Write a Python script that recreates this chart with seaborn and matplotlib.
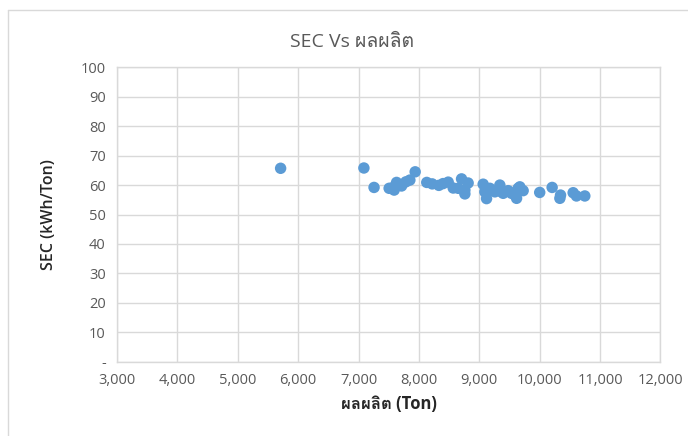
import matplotlib
matplotlib.use("Agg")
import matplotlib.pyplot as plt
from matplotlib import font_manager
from matplotlib.ft2font import FT2Font
from matplotlib.lines import Line2D
from matplotlib.ticker import FuncFormatter, MultipleLocator
import seaborn as sns
import pandas as pd

# Production (Ton) and specific energy consumption (kWh/Ton)
production = [5710, 7089, 7257, 7507, 7563, 7590, 7630, 7713, 7784, 7850, 7938,
              8130, 8220, 8330, 8400, 8485, 8568, 8651, 8706, 8761, 8761, 8815,
              9064, 9092, 9120, 9175, 9258, 9340, 9368, 9395, 9478, 9533, 9617,
              9643, 9671, 9726, 10000, 10206, 10334, 10345, 10554, 10609, 10747]
sec = [65.7, 65.8, 59.2, 58.9, 59.1, 58.3, 60.9, 59.7, 61.1, 61.7, 64.5,
       60.9, 60.4, 59.9, 60.5, 61.0, 59.0, 58.9, 62.1, 58.3, 57.0, 60.7,
       60.3, 57.7, 55.4, 58.9, 57.7, 60.0, 57.7, 57.2, 58.1, 57.2, 55.5,
       58.9, 59.4, 58.1, 57.5, 59.2, 55.5, 56.6, 57.4, 56.3, 56.3]

title_text = "SEC Vs ผลผลิต"
x_label = "ผลผลิต (Ton)"
y_label = "SEC (kWh/Ton)"

df = pd.DataFrame({"production": production, "sec": sec})

sns.set_theme(style="white")


def thai_capable_fonts():
    names = []
    for f in font_manager.fontManager.ttflist:
        try:
            cmap = FT2Font(f.fname).get_charmap()
        except Exception:
            continue
        if 0x0E1C in cmap and f.name not in names:
            names.append(f.name)
    return names


families = ["Open Sans"] + thai_capable_fonts() + ["DejaVu Sans"]
plt.rcParams["font.family"] = families

fig = plt.figure(figsize=(6.88, 4.36), dpi=100)
ax = fig.add_axes([0.170, 0.1704, 0.790, 0.6752])

sns.scatterplot(data=df, x="production", y="sec", ax=ax, color="#5B9BD5",
                s=68, edgecolor="none", linewidth=0, zorder=3)

ax.set_xlim(3000, 12000)
ax.set_ylim(0, 100)
ax.xaxis.set_major_locator(MultipleLocator(1000))
ax.yaxis.set_major_locator(MultipleLocator(10))
ax.xaxis.set_major_formatter(FuncFormatter(lambda v, p: f"{v:,.0f}"))
ax.yaxis.set_major_formatter(FuncFormatter(lambda v, p: "-" if v == 0 else f"{v:.0f}"))

ax.grid(True, color="#D9D9D9", linewidth=1.0)
ax.set_axisbelow(True)
for sp in ax.spines.values():
    sp.set_color("#D9D9D9")
    sp.set_linewidth(1.0)
ax.tick_params(axis="both", length=0, labelsize=10.5, colors="#595959", pad=8)

ax.set_xlabel(x_label, fontsize=12, fontweight="bold", color="#262626", labelpad=5)
ax.set_ylabel(y_label, fontsize=11.5, fontweight="semibold", color="#262626", labelpad=17)

fig.text(0.512, 0.904, title_text, ha="center", va="center", fontsize=14,
         color="#595959")

# chart area frame
fig.add_artist(Line2D([0.0116, 0.0116], [0.0, 0.977], color="#D9D9D9", linewidth=1.0))
fig.add_artist(Line2D([0.0116, 1.0], [0.977, 0.977], color="#D9D9D9", linewidth=1.0))

fig.savefig("out.png", dpi=100)
